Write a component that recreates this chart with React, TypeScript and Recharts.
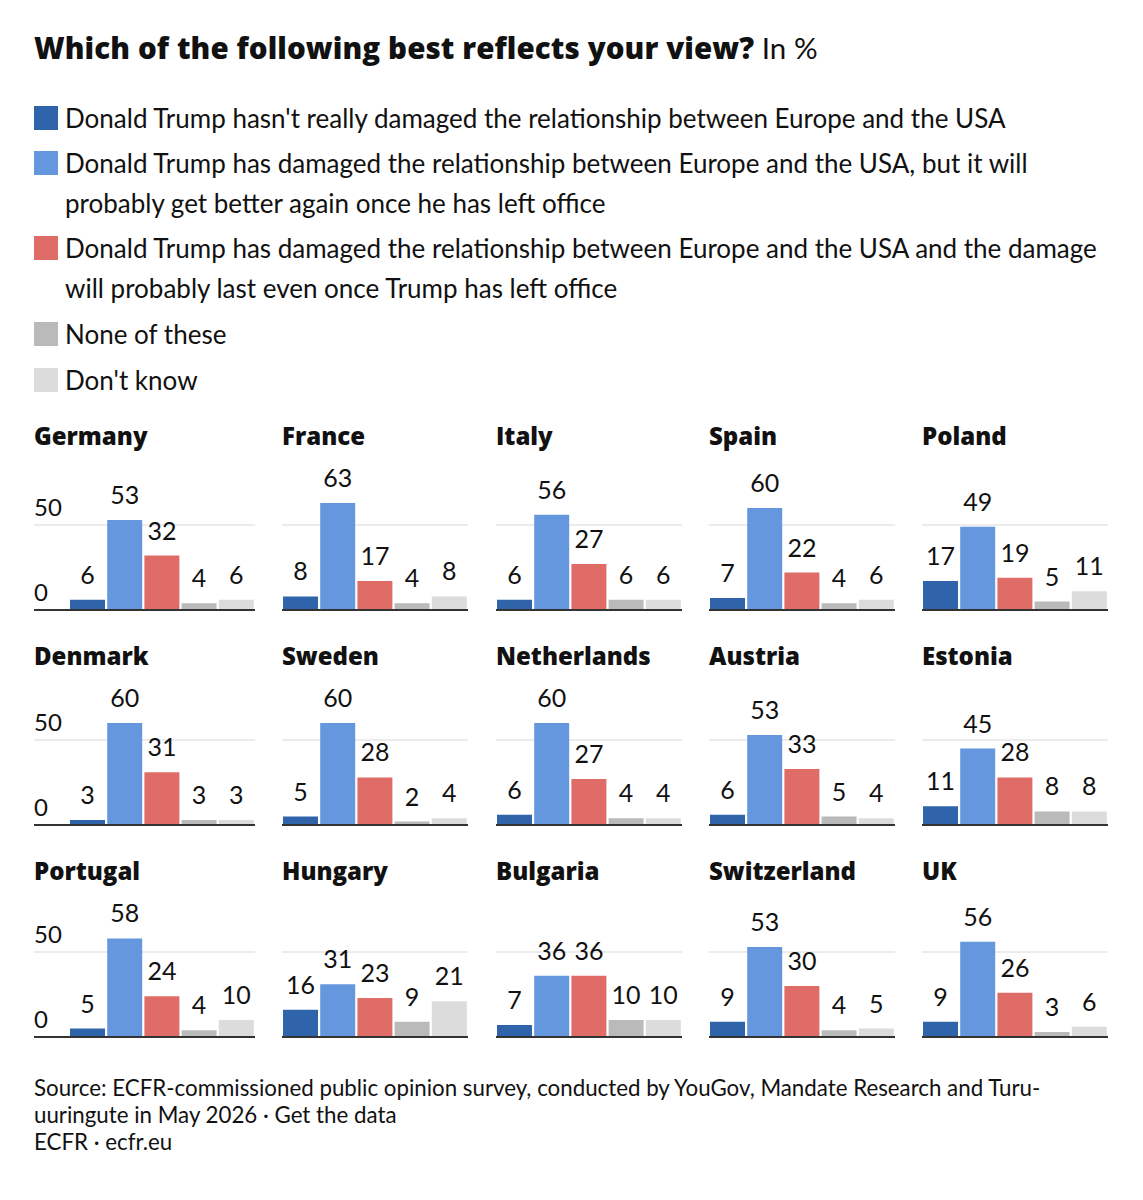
import React from "react";
import { BarChart, Bar, XAxis, YAxis, CartesianGrid, ReferenceLine, Cell, LabelList } from "recharts";

const countries = [
  "Germany", "France", "Italy", "Spain", "Poland",
  "Denmark", "Sweden", "Netherlands", "Austria", "Estonia",
  "Portugal", "Hungary", "Bulgaria", "Switzerland", "UK",
];
const notDamaged = [6, 8, 6, 7, 17, 3, 5, 6, 6, 11, 5, 16, 7, 9, 9];
const damagedTemporary = [53, 63, 56, 60, 49, 60, 60, 60, 53, 45, 58, 31, 36, 53, 56];
const damagedLasting = [32, 17, 27, 22, 19, 31, 28, 27, 33, 28, 24, 23, 36, 30, 26];
const noneOfThese = [4, 4, 6, 4, 5, 3, 2, 4, 5, 8, 4, 9, 10, 4, 3];
const dontKnow = [6, 8, 6, 6, 11, 3, 4, 4, 4, 8, 10, 21, 10, 5, 6];
const yTicks = [0, 50];

const seriesKeys = ["notDamaged", "damagedTemporary", "damagedLasting", "noneOfThese", "dontKnow"];
const seriesValues = [notDamaged, damagedTemporary, damagedLasting, noneOfThese, dontKnow];
const colors = ["#2f64ab", "#6597de", "#e06c67", "#bababa", "#dcdcdc"];

const legendItems = [
  { color: colors[0], lines: ["Donald Trump hasn't really damaged the relationship between Europe and the USA"] },
  { color: colors[1], lines: ["Donald Trump has damaged the relationship between Europe and the USA, but it will", "probably get better again once he has left office"] },
  { color: colors[2], lines: ["Donald Trump has damaged the relationship between Europe and the USA and the damage", "will probably last even once Trump has left office"] },
  { color: colors[3], lines: ["None of these"] },
  { color: colors[4], lines: ["Don't know"] },
];

const footerLines = [
  "Source: ECFR-commissioned public opinion survey, conducted by YouGov, Mandate Research and Turu-",
  "uuringute in May 2026 · Get the data",
  "ECFR · ecfr.eu",
];

const FONT = "Lato, 'Open Sans', sans-serif";
const BOLD_FONT = "'Open Sans', Lato, sans-serif";
const TEXT = "#111";

const colLeft = [34, 282, 496, 709, 922];
const rowBaseline = [610, 825, 1037];
const rowTitle = [437, 657, 872];
const PLOT_W = 186;
const FIRST_PAD = 35;
const PLOT_H = 136;
const TOP_M = 14;
const BOT_M = 2;

const TickLabel = (props: any) => {
  const { viewBox, value } = props;
  if (!viewBox) return null;
  return (
    <text x={viewBox.x} y={viewBox.y - 9} textAnchor="start" fontSize={24} fill={TEXT} fontFamily={FONT}>
      {value}
    </text>
  );
};

function Panel({ idx }: { idx: number }) {
  const col = idx % 5;
  const row = Math.floor(idx / 5);
  const data = seriesKeys.map((k, i) => ({ key: k, value: seriesValues[i][idx] }));
  const first = col === 0;
  const width = first ? PLOT_W + FIRST_PAD : PLOT_W;
  const height = TOP_M + PLOT_H + BOT_M;
  const left = colLeft[col];
  const top = rowBaseline[row] - TOP_M - PLOT_H;
  return (
    <>
      <div
        style={{
          position: "absolute",
          left,
          top: rowTitle[row] - 17,
          fontSize: 24,
          fontWeight: 800,
          lineHeight: "32px",
          color: TEXT,
          fontFamily: BOLD_FONT,
          whiteSpace: "nowrap",
        }}
      >
        {countries[idx]}
      </div>
      <div style={{ position: "absolute", left, top }}>
        <BarChart
          width={width}
          height={height}
          data={data}
          margin={{ top: TOP_M, right: 0, bottom: BOT_M, left: 0 }}
          barCategoryGap={1}
          style={{ overflow: "visible" }}
        >
          <CartesianGrid vertical={false} horizontal={true} horizontalValues={yTicks} syncWithTicks={false} stroke="#e6e6e6" strokeWidth={1.5} />
          <XAxis dataKey="key" hide padding={{ left: first ? FIRST_PAD : 0, right: 0 }} />
          <YAxis domain={[0, 80]} ticks={yTicks} hide />
          <Bar dataKey="value" isAnimationActive={false}>
            {data.map((d, i) => (
              <Cell key={d.key} fill={colors[i]} />
            ))}
            <LabelList dataKey="value" position="top" offset={16} fontSize={25} fill={TEXT} fontFamily={FONT} />
          </Bar>
          <ReferenceLine y={0} stroke="#333" strokeWidth={2} label={first ? <TickLabel value={yTicks[0]} /> : undefined} />
          {first && (
            <ReferenceLine y={yTicks[1]} stroke="none" label={<TickLabel value={yTicks[1]} />} />
          )}
        </BarChart>
      </div>
    </>
  );
}

export default function App() {
  let y = 118;
  const legendRows: React.ReactNode[] = [];
  legendItems.forEach((item, i) => {
    const startY = y;
    legendRows.push(
      <div key={"sq" + i} style={{ position: "absolute", left: 34, top: startY - 12, width: 24, height: 24, background: item.color }} />
    );
    item.lines.forEach((ln, j) => {
      legendRows.push(
        <div
          key={"ln" + i + "-" + j}
          style={{
            position: "absolute",
            left: 65,
            top: startY + j * 40 - 16,
            fontSize: 26,
            lineHeight: "32px",
            color: TEXT,
            fontFamily: FONT,
            whiteSpace: "nowrap",
          }}
        >
          {ln}
        </div>
      );
    });
    y = startY + (item.lines.length - 1) * 40 + 45;
    if (i === 2) y = 334;
    if (i === 3) y = 380;
  });

  return (
    <div style={{ position: "absolute", left: 0, top: 0, width: 1143, height: 1200, background: "#fff", fontFamily: FONT }}>
      <div
        style={{
          position: "absolute",
          left: 34,
          top: 31,
          fontSize: 29.5,
          lineHeight: "34px",
          color: TEXT,
          whiteSpace: "nowrap",
        }}
      >
        <span style={{ fontWeight: 800, fontFamily: BOLD_FONT, letterSpacing: 0.1 }}>Which of the following best reflects your view?</span>
        <span style={{ fontWeight: 400, fontFamily: FONT }}> In %</span>
      </div>
      {legendRows}
      {countries.map((c, i) => (
        <Panel key={c} idx={i} />
      ))}
      {footerLines.map((ln, i) => (
        <div
          key={i}
          style={{
            position: "absolute",
            left: 34,
            top: 1088 + i * 27 - 13,
            fontSize: 22.3,
            lineHeight: "26px",
            color: TEXT,
            whiteSpace: "nowrap",
          }}
        >
          {ln}
        </div>
      ))}
    </div>
  );
}
